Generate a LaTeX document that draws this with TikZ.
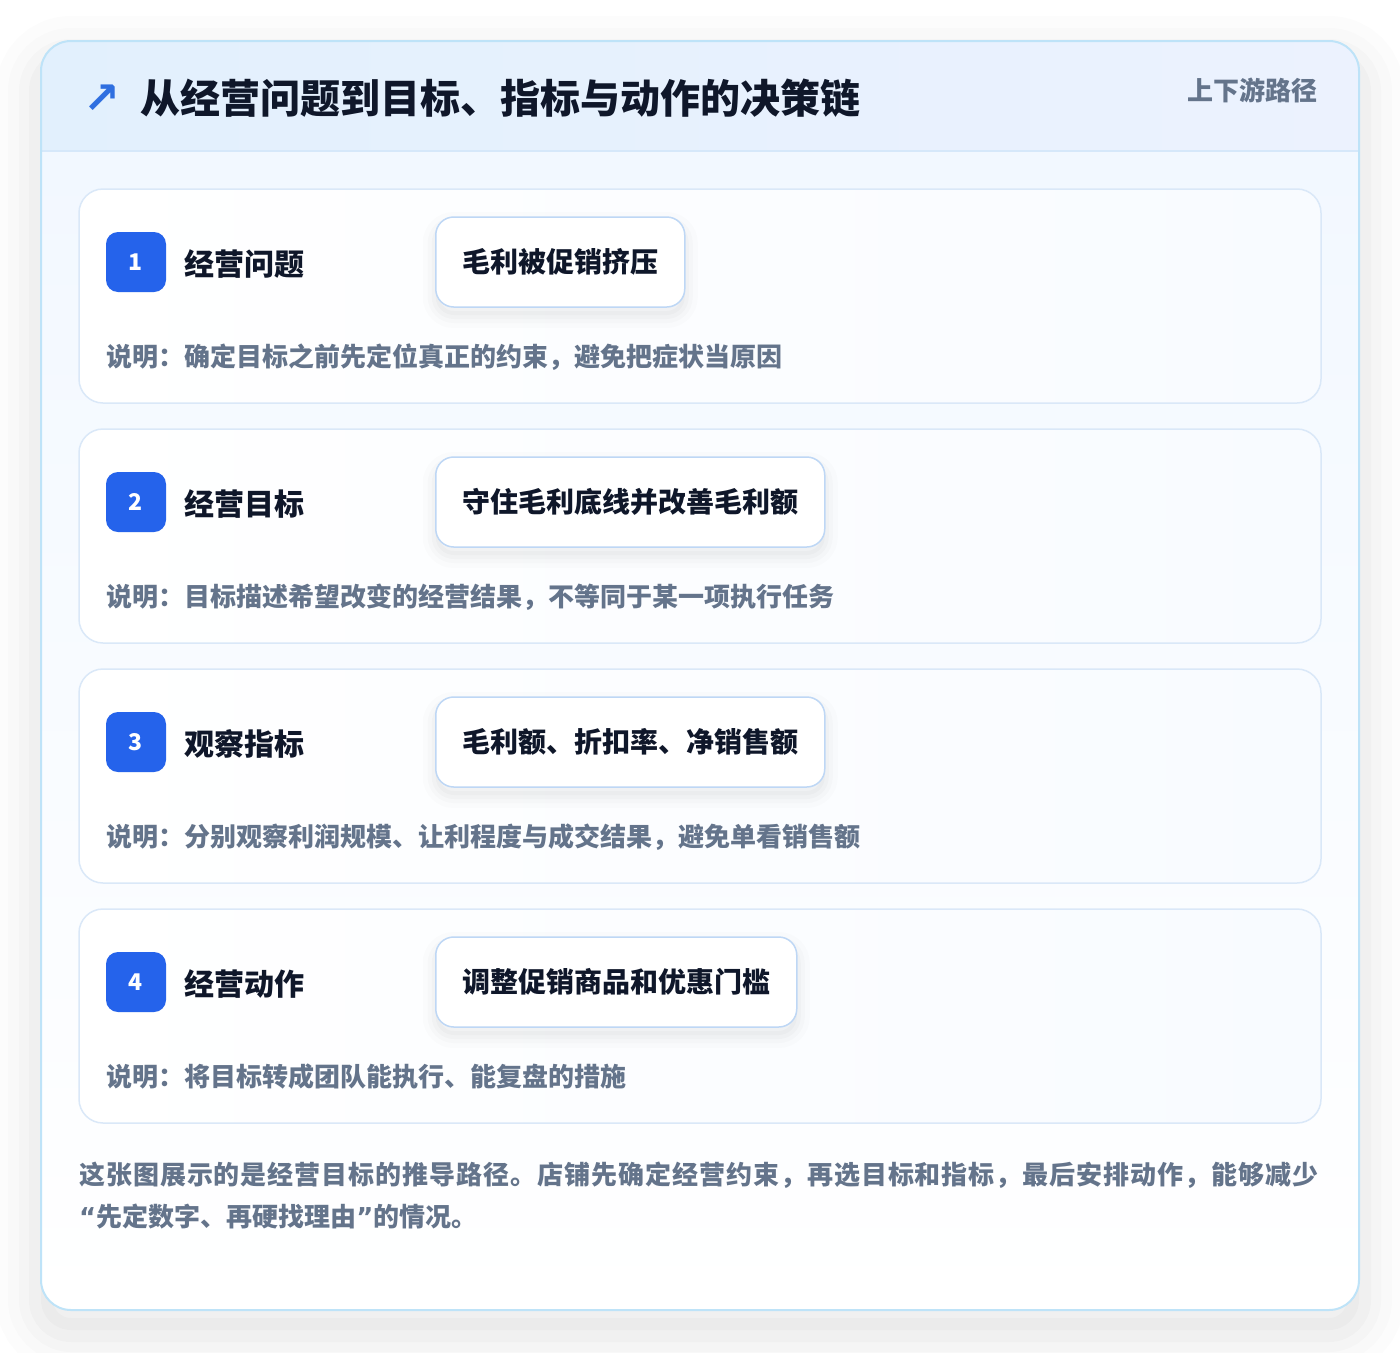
\documentclass[tikz,border=0pt]{standalone}
\usepackage{fontspec}
\setmainfont{Noto Sans CJK SC}
\newfontfamily\dejavu{DejaVu Sans}
\definecolor{outerB}{RGB}{190,227,248}
\definecolor{hdrL}{RGB}{226,240,253}
\definecolor{hdrR}{RGB}{236,242,254}
\definecolor{hdrLine}{RGB}{214,232,250}
\definecolor{bodyTop}{RGB}{242,248,255}
\definecolor{cardB}{RGB}{218,232,248}
\definecolor{cardR}{RGB}{248,251,255}
\definecolor{badgeC}{RGB}{37,99,235}
\definecolor{darkT}{RGB}{15,23,42}
\definecolor{grayT}{RGB}{100,116,139}
\definecolor{pillB}{RGB}{190,215,245}
\definecolor{iconC}{RGB}{47,111,224}
\newcommand{\nq}[1]{{\dejavu\bfseries #1}}
\tikzset{
  card/.style={draw=cardB, line width=1.5pt, rounded corners=24pt, left color=white, right color=cardR,
    minimum width=1242pt, minimum height=214pt, inner sep=0pt},
  badge/.style={fill=badgeC, rounded corners=12pt, minimum size=60pt, inner sep=0pt,
    text=white, font=\fontsize{23}{27}\selectfont\bfseries},
  lbl/.style={anchor=west, text=darkT, inner sep=0pt, font=\fontsize{30}{36}\selectfont\bfseries},
  pill/.style={anchor=west, draw=pillB, line width=1.5pt, fill=white, rounded corners=18pt,
    minimum height=90pt, inner xsep=26.5pt, inner ysep=0pt, text=darkT,
    font=\fontsize{28}{34}\selectfont\bfseries,
    preaction={draw=black, draw opacity=0.012, line width=26pt, transform canvas={yshift=-8pt}},
    preaction={draw=black, draw opacity=0.015, line width=16pt, transform canvas={yshift=-8pt}},
    preaction={draw=black, draw opacity=0.02, line width=8pt, transform canvas={yshift=-8pt}},
    preaction={fill=black, fill opacity=0.02, transform canvas={yshift=-8pt}}},
  desc/.style={anchor=west, text=grayT, inner sep=0pt, font=\fontsize{26}{32}\selectfont\bfseries},
  foot/.style={anchor=west, text=grayT, inner sep=0pt, font=\fontsize{26}{32}\selectfont\bfseries},
}
\begin{document}
\begin{tikzpicture}[x=1pt,y=-1pt]
\useasboundingbox (0,0) rectangle (1400,1352);
\fill[white] (0,0) rectangle (1400,1352);
% outer card with soft shadow
\path[fill=white, rounded corners=30pt,
  preaction={draw=black, draw opacity=0.010, line width=90pt, transform canvas={yshift=-20pt}},
  preaction={draw=black, draw opacity=0.013, line width=66pt, transform canvas={yshift=-20pt}},
  preaction={draw=black, draw opacity=0.016, line width=44pt, transform canvas={yshift=-20pt}},
  preaction={draw=black, draw opacity=0.018, line width=24pt, transform canvas={yshift=-20pt}},
  preaction={fill=black, fill opacity=0.02, transform canvas={yshift=-20pt}}]
  (41,41) rectangle (1359,1310);
\begin{scope}
  \clip[rounded corners=30pt] (41,41) rectangle (1359,1310);
  \shade[top color=bodyTop, bottom color=white] (41,151) rectangle (1359,1310);
  \shade[left color=hdrL, right color=hdrR] (41,41) rectangle (1359,151);
  \draw[hdrLine, line width=1.5pt] (41,151) -- (1359,151);
\end{scope}
\draw[outerB, line width=2pt, rounded corners=30pt] (41,41) rectangle (1359,1310);
% header
\node[text=iconC, inner sep=0pt, font=\dejavu\bfseries\fontsize{44}{50}\selectfont] (icon) at (102,99) {↗};
\node[anchor=west, inner sep=0pt, text=darkT, font=\fontsize{40}{48}\selectfont\bfseries] (title) at (140,98)
  {从经营问题到目标、指标与动作的决策链};
\node[anchor=east, inner sep=0pt, text=grayT, font=\fontsize{26}{32}\selectfont\bfseries] (tag) at (1318,90)
  {上下游路径};
% cards
\foreach \i/\lab/\val/\d in {
  1/经营问题/毛利被促销挤压/说明：确定目标之前先定位真正的约束，避免把症状当原因,
  2/经营目标/守住毛利底线并改善毛利额/说明：目标描述希望改变的经营结果，不等同于某一项执行任务,
  3/观察指标/毛利额、折扣率、净销售额/说明：分别观察利润规模、让利程度与成交结果，避免单看销售额,
  4/经营动作/调整促销商品和优惠门槛/说明：将目标转成团队能执行、能复盘的措施}{
  \pgfmathsetmacro{\yo}{240*(\i-1)}
  \node[card] (card\i) at (700,296+\yo) {};
  \node[badge] (badge\i) at (136,262+\yo) {\i};
  \node[lbl] (label\i) at (184,264+\yo) {\lab};
  \node[pill] (pill\i) at (435,262+\yo) {\val};
  \node[desc] (desc\i) at (106,357+\yo) {\d};
}
% footer
\node[foot] (foot1) at (79,1175) {\addfontfeature{LetterSpace=3.7}这张图展示的是经营目标的推导路径。店铺先确定经营约束，再选目标和指标，最后安排动作，能够减少};
\node[foot] (foot2) at (79,1217) {\nq{“}先定数字、再硬找理由\nq{”}的情况。};
\end{tikzpicture}
\end{document}
